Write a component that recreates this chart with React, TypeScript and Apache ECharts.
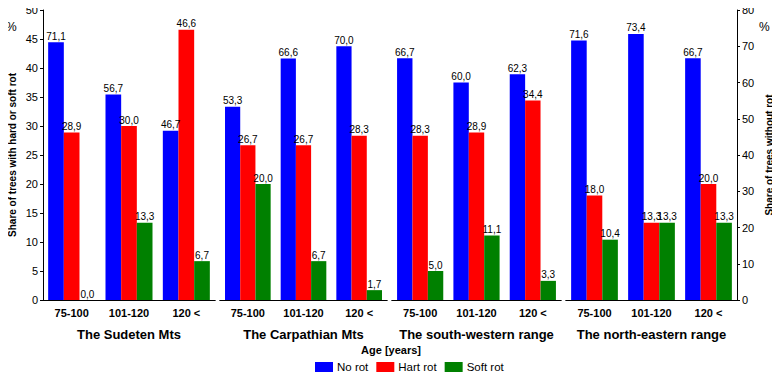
import React, { useEffect, useRef } from "react";
import * as echarts from "echarts";

const groups = ["The Sudeten Mts", "The Carpathian Mts", "The south-western range", "The north-eastern range"];
const ageClasses = ["75-100", "101-120", "120 <"];
const noRot = [
  [71.1, 56.7, 46.7],
  [53.3, 66.6, 70.0],
  [66.7, 60.0, 62.3],
  [71.6, 73.4, 66.7],
];
const hartRot = [
  [28.9, 30.0, 46.6],
  [26.7, 26.7, 28.3],
  [28.3, 28.9, 34.4],
  [18.0, 13.3, 20.0],
];
const softRot = [
  [0.0, 13.3, 6.7],
  [20.0, 6.7, 1.7],
  [5.0, 11.1, 3.3],
  [10.4, 13.3, 13.3],
];
const seriesNames = ["No rot", "Hart rot", "Soft rot"];
const colors = ["#0000ff", "#ff0000", "#008000"];

const FONT = "Liberation Sans, Arial, sans-serif";

export default function App() {
  const ref = useRef<HTMLDivElement>(null);
  useEffect(() => {
    if (!ref.current) return;
    const chart = echarts.init(ref.current, undefined, { renderer: "svg" });
    const gridPos = [
      { left: 43, width: 172 },
      { left: 220, width: 167 },
      { left: 392, width: 169 },
      { left: 566, width: 171 },
    ];
    const grid = gridPos.map((g) => ({ left: g.left, width: g.width, top: 10, height: 290 }));
    const xAxis: any[] = [];
    const yAxis: any[] = [];
    const series: any[] = [];
    const fmt = (p: any) => Number(p.value).toFixed(1).replace(".", ",");
    groups.forEach((gname, i) => {
      xAxis.push({
        type: "category",
        gridIndex: i,
        position: "bottom",
        data: ageClasses,
        name: gname,
        nameLocation: "middle",
        nameGap: 28,
        nameTextStyle: { fontFamily: FONT, fontSize: 13, fontWeight: "bold", color: "#000" },
        axisLine: { lineStyle: { color: "#000", width: 1 } },
        axisTick: { inside: true, length: 3, lineStyle: { color: "#000" } },
        axisLabel: { fontFamily: FONT, fontSize: 11, fontWeight: "bold", color: "#000", margin: 7 },
        splitLine: { show: false },
      });
      xAxis.push({
        type: "category",
        gridIndex: i,
        position: "top",
        data: ageClasses,
        axisLine: { lineStyle: { color: "#000", width: 1 } },
        axisTick: { inside: true, length: 3, lineStyle: { color: "#000" } },
        axisLabel: { show: false },
        splitLine: { show: false },
      });
      yAxis.push({
        type: "value",
        gridIndex: i,
        position: "left",
        min: 0,
        max: 50,
        interval: 5,
        show: i === 0,
        name: i === 0 ? "Share of trees with hard or soft rot" : "",
        nameLocation: "middle",
        nameGap: 26,
        nameRotate: 90,
        nameTextStyle: { fontFamily: FONT, fontSize: 10, fontWeight: "bold", color: "#000" },
        axisLine: { show: true, lineStyle: { color: "#000" } },
        axisTick: { show: true, length: 3, lineStyle: { color: "#000" } },
        axisLabel: { fontFamily: FONT, fontSize: 11, color: "#000", margin: 5 },
        splitLine: { show: false },
      });
      yAxis.push({
        type: "value",
        gridIndex: i,
        position: "right",
        min: 0,
        max: 80,
        interval: 10,
        show: i === 3,
        name: i === 3 ? "Share of trees without rot" : "",
        nameLocation: "middle",
        nameGap: 27,
        nameRotate: 90,
        nameTextStyle: { fontFamily: FONT, fontSize: 10, fontWeight: "bold", color: "#000" },
        axisLine: { show: true, lineStyle: { color: "#000" } },
        axisTick: { show: true, length: 3, lineStyle: { color: "#000" } },
        axisLabel: { fontFamily: FONT, fontSize: 11, color: "#000", margin: 5 },
        splitLine: { show: false },
      });
      const vals = [noRot[i], hartRot[i], softRot[i]];
      vals.forEach((v, s) => {
        series.push({
          type: "bar",
          name: seriesNames[s],
          xAxisIndex: 2 * i,
          yAxisIndex: s === 0 ? 2 * i + 1 : 2 * i,
          data: v,
          barGap: "0%",
          barCategoryGap: "18%",
          itemStyle: { color: colors[s] },
          label: {
            show: true,
            position: "top",
            distance: 1,
            formatter: fmt,
            fontFamily: FONT,
            fontSize: 10,
            color: "#000",
          },
        });
      });
    });
    chart.setOption({
      animation: false,
      backgroundColor: "#fff",
      textStyle: { fontFamily: FONT },
      grid,
      xAxis,
      yAxis,
      series,
      legend: {
        data: seriesNames,
        left: 315,
        top: 361,
        icon: "rect",
        itemWidth: 18,
        itemHeight: 10,
        itemGap: 8,
        padding: 0,
        textStyle: { fontFamily: FONT, fontSize: 11.5, color: "#000", padding: [0, 0, 0, -1] },
      },
      graphic: [
        { type: "text", left: 6, top: 21, style: { text: "%", font: `12px ${FONT}`, fill: "#000" } },
        { type: "text", left: 759, top: 21, style: { text: "%", font: `12px ${FONT}`, fill: "#000" } },
        {
          type: "text",
          x: 391,
          y: 350,
          style: { text: "Age [years]", font: `bold 11px ${FONT}`, fill: "#000", align: "center", verticalAlign: "middle" },
        },
      ],
    });
    return () => chart.dispose();
  }, []);
  return <div ref={ref} style={{ width: 780, height: 380, margin: -8 }} />;
}
